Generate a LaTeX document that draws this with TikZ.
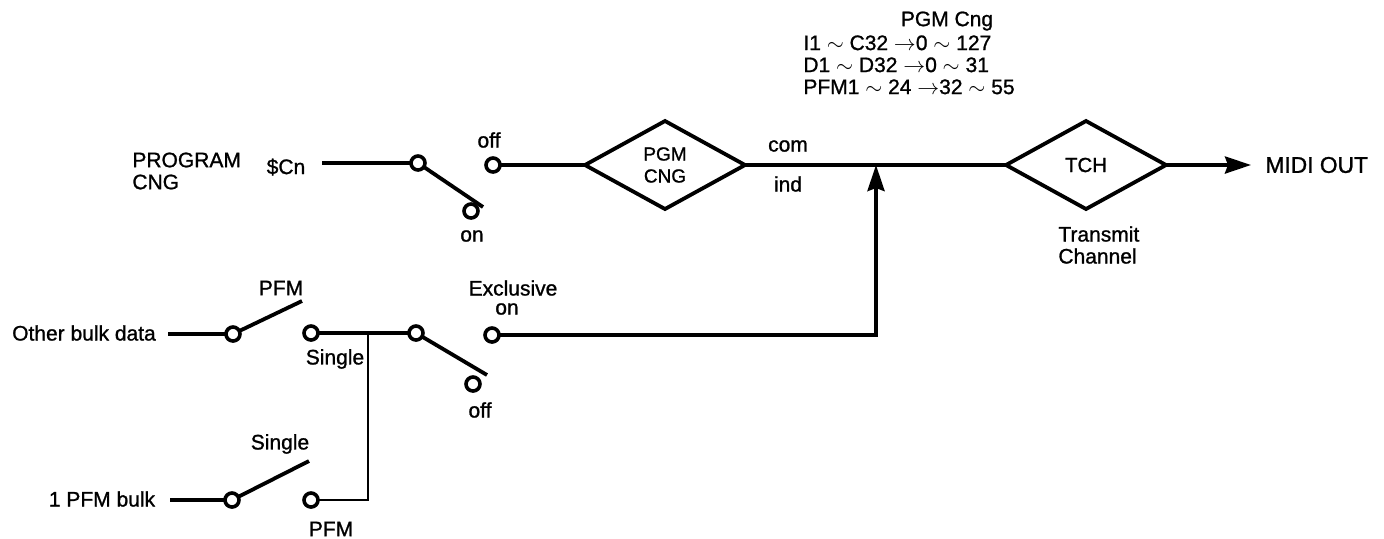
\documentclass[tikz,border=0pt]{standalone}
\usepackage{fontspec}
\setmainfont{Liberation Sans}[RawFeature={embolden=1.1}]
\usepackage{xcolor}
\usepackage{tikz}
\usetikzlibrary{shapes.geometric, arrows.meta, positioning}
\tikzset{
    wire/.style={line width=1.9pt},
    thinwire/.style={line width=1.3pt},
    myarrow/.style={wire, -{Stealth[length=13pt, width=8.5pt, inset=1.5pt]}},
    term/.style={draw, circle, line width=1.8pt, fill=white, inner sep=0pt, minimum size=7pt, outer sep=0pt},
    gate/.style={draw, diamond, line width=1.9pt, inner sep=0pt, outer sep=0pt, minimum width=80pt, minimum height=44pt, align=center, font=\fontsize{9.5}{11}\selectfont},
    lbl/.style={inner sep=0pt, font=\fontsize{10.5}{11}\selectfont, align=left}
}

\begin{document}
\begin{tikzpicture}[x=0.5pt, y=-0.5pt]
    \useasboundingbox (0,0) rectangle (1384,538);
    % upper row
    \node (prog) [lbl, anchor=west] at (132,171) {PROGRAM\\CNG};
    \node (cn) [lbl] at (286,167) {\$Cn};
    \coordinate (cnin) at (322,163);
    \node (swa) [term] at (418,163) {};
    \node (aoff) [term] at (493,165) {};
    \node (aon) [term] at (471,211) {};
    \coordinate (atip) at (483,207);
    \node (aofflbl) [lbl] at (489,140) {off};
    \node (aonlbl) [lbl] at (472,236) {on};
    \node (pgm) [gate] at (665,165) {PGM\\CNG};
    \node (tch) [gate, font=\fontsize{10.2}{11}\selectfont] at (1086,165) {TCH};
    \coordinate (tee) at (876,165);
    \coordinate (out) at (1251,165);
    \node (midi) [lbl, anchor=west, font=\fontsize{11.4}{11}\selectfont] at (1265,165) {MIDI OUT};
    \node (com) [lbl] at (788,146) {com};
    \node (ind) [lbl] at (788,184) {ind};
    \node (pgmcng) [lbl] at (947,21) {PGM Cng};
    \node (tbl) [lbl, anchor=north west] at (803,35) {I1 $\sim$ C32 $\rightarrow$0 $\sim$ 127\\D1 $\sim$ D32 $\rightarrow$0 $\sim$ 31\\PFM1 $\sim$ 24 $\rightarrow$32 $\sim$ 55};
    \node (trans) [lbl, anchor=west] at (1058,245) {Transmit\\Channel};
    % lower rows
    \node (other) [lbl] at (84,333) {Other bulk data};
    \coordinate (otherin) at (168,334);
    \node (swb) [term] at (233,334) {};
    \coordinate (btip) at (302,301);
    \node (bsingle) [term] at (311,333) {};
    \coordinate (jn) at (368,333);
    \node (swc) [term] at (416,333) {};
    \coordinate (ctip) at (487,375);
    \node (con) [term] at (492,335) {};
    \node (coff) [term] at (473,384) {};
    \node (pfmtop) [lbl] at (281,288) {PFM};
    \node (single) [lbl] at (335,359) {Single};
    \node (excl) [lbl] at (513,288) {Exclusive};
    \node (conlbl) [lbl] at (507,309) {on};
    \node (cofflbl) [lbl] at (480,410) {off};
    \node (bulk) [lbl] at (102,499) {1 PFM bulk};
    \coordinate (bulkin) at (170,500);
    \node (swd) [term] at (232,500) {};
    \coordinate (dtip) at (309,461);
    \node (dpfm) [term] at (311,500) {};
    \node (singletop) [lbl] at (280,444) {Single};
    \node (pfmbot) [lbl] at (331,529) {PFM};
    % connectors
    \draw [wire] (cnin) -- (swa);
    \draw [wire] (swa) -- (atip);
    \draw [wire] (aoff) -- (pgm.west);
    \draw [wire] (pgm.east) -- (tch.west);
    \draw [myarrow] (tch.east) -- (out);
    \draw [myarrow] (con) -| (tee);
    \draw [wire] (otherin) -- (swb);
    \draw [wire] (swb) -- (btip);
    \draw [wire] (bsingle) -- (swc);
    \draw [wire] (swc) -- (ctip);
    \draw [wire] (bulkin) -- (swd);
    \draw [wire] (swd) -- (dtip);
    \draw [thinwire] (dpfm) -| (jn);
\end{tikzpicture}
\end{document}
